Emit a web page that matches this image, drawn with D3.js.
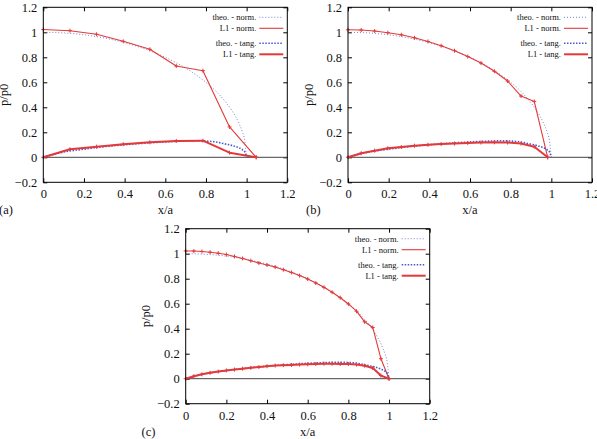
<!DOCTYPE html>
<html lang="en">
<head>
<meta charset="UTF-8">
<title>p/p0 against x/a</title>
<script src="https://d3js.org/d3.v7.min.js"></script>
<style>
  body { margin: 0; background: #fff; }
</style>
</head>
<body>
<svg id="chart" width="597" height="439"></svg>
<script>
// tick values
const xTicks = [0, 0.2, 0.4, 0.6, 0.8, 1, 1.2];
const yTicks = [-0.2, 0, 0.2, 0.4, 0.6, 0.8, 1, 1.2];

// theoretical curves (same in every panel)
const theoX    = [0, 0.1, 0.2, 0.3, 0.4, 0.5, 0.6, 0.7, 0.75, 0.8, 0.85, 0.9, 0.93, 0.96, 0.98, 0.99, 1.0];
const theoNorm = [1.0, 0.995, 0.98, 0.954, 0.917, 0.866, 0.8, 0.714, 0.661, 0.6, 0.527, 0.436, 0.368, 0.28, 0.199, 0.141, 0];
const theoTang = [0, 0.042, 0.065, 0.085, 0.1, 0.113, 0.123, 0.13, 0.132, 0.13, 0.122, 0.105, 0.094, 0.077, 0.06, 0.045, 0];

// (a) L1 results
const aX    = [0, 0.131, 0.262, 0.393, 0.524, 0.654, 0.785, 0.916, 1.047];
const aNorm = [1.022, 1.013, 0.984, 0.928, 0.864, 0.73, 0.693, 0.243, 0];
const aTang = [0, 0.064, 0.085, 0.105, 0.12, 0.131, 0.133, 0.037, 0];

// (b) L1 results
const bX    = [0, 0.065, 0.131, 0.196, 0.262, 0.327, 0.393, 0.458, 0.524, 0.589, 0.654, 0.72, 0.785, 0.851, 0.916, 0.982];
const bNorm = [1.02, 1.018, 1.01, 0.997, 0.98, 0.956, 0.927, 0.893, 0.853, 0.806, 0.754, 0.688, 0.61, 0.49, 0.447, 0];
const bTang = [0, 0.033, 0.053, 0.072, 0.082, 0.093, 0.1, 0.106, 0.11, 0.115, 0.118, 0.12, 0.118, 0.11, 0.085, 0];

// (c) L1 results
const cX    = [0, 0.04, 0.08, 0.12, 0.16, 0.2, 0.24, 0.28, 0.32, 0.36, 0.4, 0.44, 0.48, 0.52, 0.56, 0.6, 0.64, 0.68, 0.72, 0.76, 0.8, 0.84, 0.88, 0.92, 0.96, 1.0];
const cNorm = [1.022, 1.021, 1.018, 1.012, 1.004, 0.993, 0.978, 0.962, 0.944, 0.925, 0.91, 0.893, 0.872, 0.85, 0.825, 0.797, 0.765, 0.731, 0.692, 0.648, 0.598, 0.54, 0.455, 0.41, 0.16, 0];
const cTang = [0, 0.02, 0.035, 0.047, 0.057, 0.066, 0.073, 0.08, 0.087, 0.093, 0.1, 0.105, 0.108, 0.11, 0.113, 0.115, 0.117, 0.12, 0.12, 0.118, 0.117, 0.113, 0.104, 0.085, 0.025, 0];

const legendLabels = ["theo. - norm.", "L1 - norm.", "theo. - tang.", "L1 - tang."];

const SERIF = '"Liberation Serif", "Times New Roman", serif';
const RED = "#e23a3a", BLUE = "#4a58cc";
const styles = [
  { color: "#6a76c8", width: 0.9, dash: "1,2" },
  { color: RED, width: 1.1, dash: null },
  { color: BLUE, width: 1.6, dash: "1.5,1.5" },
  { color: RED, width: 2, dash: null }
];

const panels = [
  { tag: "(a)", left: 43.3, top: 7.3, tagX: -1, x: aX, norm: aNorm, tang: aTang },
  { tag: "(b)", left: 348, top: 7.3, tagX: 306, x: bX, norm: bNorm, tang: bTang },
  { tag: "(c)", left: 185.7, top: 228.7, tagX: 141.5, x: cX, norm: cNorm, tang: cTang }
];

const W = 244, H = 175;
const svg = d3.select("#chart");

panels.forEach(p => {
  const g = svg.append("g").attr("transform", `translate(${p.left},${p.top})`);
  const x = d3.scaleLinear().domain([0, 1.2]).range([0, W]);
  const y = d3.scaleLinear().domain([-0.2, 1.2]).range([H, 0]);

  // axes with inward ticks, mirrored
  g.append("g").attr("class", "axis").attr("transform", `translate(0,${H})`)
    .call(d3.axisBottom(x).tickValues(xTicks).tickSize(-4).tickPadding(7).tickFormat(d3.format("~g")));
  g.append("g").attr("class", "axis")
    .call(d3.axisLeft(y).tickValues(yTicks).tickSize(-4).tickPadding(6).tickFormat(d3.format("~g")));
  g.append("g").call(d3.axisTop(x).tickValues(xTicks).tickSize(-4).tickFormat(""));
  g.append("g").attr("transform", `translate(${W},0)`)
    .call(d3.axisRight(y).tickValues(yTicks).tickSize(-4).tickFormat(""));
  g.selectAll(".domain").remove();
  g.selectAll(".tick line").attr("stroke", "#000");
  g.selectAll(".axis").attr("font-family", null).attr("font-size", null);
  g.selectAll(".axis text").attr("fill", "#111")
    .style("font-family", SERIF).style("font-size", "12.5px");

  // zero axis
  g.append("line").attr("x1", x(0)).attr("x2", x(1.2)).attr("y1", y(0)).attr("y2", y(0))
    .attr("stroke", "#444").attr("stroke-width", 1);

  const line = d3.line().x(d => x(d[0])).y(d => y(d[1]));
  const smooth = d3.line().x(d => x(d[0])).y(d => y(d[1])).curve(d3.curveMonotoneX);

  const series = [
    { pts: theoX.map((v, i) => [v, theoNorm[i]]), gen: smooth, st: styles[0] },
    { pts: p.x.map((v, i) => [v, p.norm[i]]), gen: line, st: styles[1], marks: true },
    { pts: theoX.map((v, i) => [v, theoTang[i]]), gen: smooth, st: styles[2] },
    { pts: p.x.map((v, i) => [v, p.tang[i]]), gen: line, st: styles[3], marks: true }
  ];

  series.forEach(s => {
    g.append("path").datum(s.pts).attr("d", s.gen)
      .attr("fill", "none").attr("stroke", s.st.color).attr("stroke-width", s.st.width)
      .attr("stroke-dasharray", s.st.dash).attr("stroke-linejoin", "round");
    if (s.marks) {
      g.selectAll(null).data(s.pts).enter().append("path")
        .attr("transform", d => `translate(${x(d[0])},${y(d[1])})`)
        .attr("d", "M-2,0H2M0,-2V2")
        .attr("stroke", s.st.color).attr("stroke-width", 1);
    }
  });

  // frame
  g.append("rect").attr("width", W).attr("height", H)
    .attr("fill", "none").attr("stroke", "#000").attr("stroke-width", 1);

  // legend
  const rowsY = [10, 21, 36, 47];
  const lg = g.append("g");
  legendLabels.forEach((lab, i) => {
    lg.append("text").attr("x", W - 31).attr("y", rowsY[i]).attr("dy", "0.35em")
      .attr("text-anchor", "end").style("font-family", SERIF).style("font-size", "8.5px")
      .attr("fill", "#111").text(lab);
    lg.append("line").attr("x1", W - 28).attr("x2", W - 4).attr("y1", rowsY[i]).attr("y2", rowsY[i])
      .attr("stroke", styles[i].color).attr("stroke-width", styles[i].width)
      .attr("stroke-dasharray", styles[i].dash);
  });

  // axis titles
  g.append("text").attr("x", W / 2).attr("y", H + 32).attr("text-anchor", "middle")
    .style("font-family", SERIF).style("font-size", "12.5px").attr("fill", "#111").text("x/a");
  g.append("text").attr("transform", `translate(-35.5,${H / 2}) rotate(-90)`)
    .attr("text-anchor", "middle").style("font-family", SERIF).style("font-size", "12.5px")
    .attr("fill", "#111").text("p/p0");
  svg.append("text").attr("x", p.tagX).attr("y", p.top + H + 32)
    .style("font-family", SERIF).style("font-size", "12.5px").attr("fill", "#111").text(p.tag);
});
</script>
</body>
</html>
